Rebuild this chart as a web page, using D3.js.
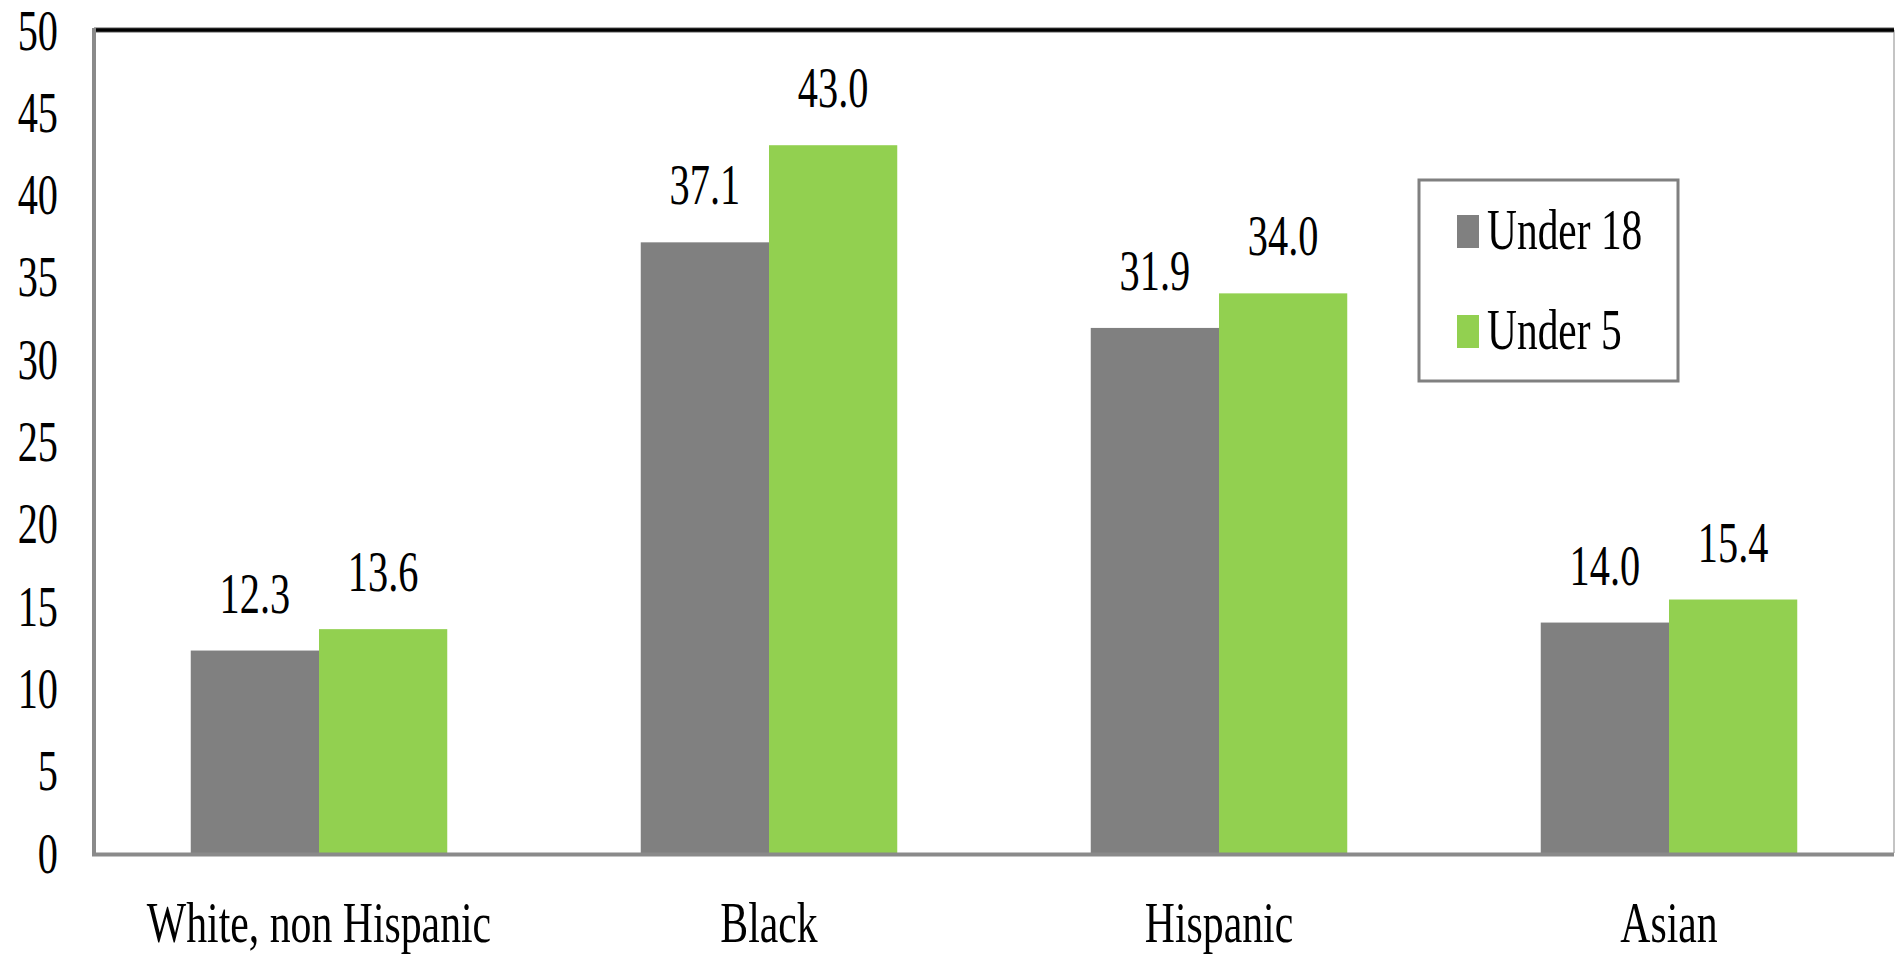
<!DOCTYPE html>
<html>
<head>
<meta charset="utf-8">
<script src="https://cdn.jsdelivr.net/npm/d3@7"></script>
<style>
  html, body { margin: 0; padding: 0; background: #fff; }
  svg { display: block; }
  svg text { font-family: "Liberation Serif", Tinos, "Times New Roman", Times, serif !important; fill: #000; }
</style>
</head>
<body>
<svg id="chart" width="1895" height="955"></svg>
<script>
const categories = ["White, non Hispanic", "Black", "Hispanic", "Asian"];
const seriesNames = ["Under 18", "Under 5"];
const under18 = [12.3, 37.1, 31.9, 14.0];
const under5 = [13.6, 43.0, 34.0, 15.4];
const yTicks = [0, 5, 10, 15, 20, 25, 30, 35, 40, 45, 50];
const colors = ["#808080", "#92D050"];

(function () {
const svg = d3.select("#chart");
const pLeft = 94, pRight = 1894, pTop = 30, pBottom = 853;
const SX = 0.72;
const FONT = "'Liberation Serif', Tinos, 'Times New Roman', Times, serif";

const x = d3.scaleBand().domain(categories).range([pLeft, pRight]).paddingInner(0.43).paddingOuter(0.215);
const xs = d3.scaleBand().domain(seriesNames).range([0, x.bandwidth()]);
const y = d3.scaleLinear().domain([0, 50]).range([pBottom, pTop]);

const data = categories.map((c, i) => ({ cat: c, values: [
  { s: seriesNames[0], v: under18[i] },
  { s: seriesNames[1], v: under5[i] }
]}));

// right border
svg.append("line").attr("x1", pRight).attr("x2", pRight).attr("y1", pTop).attr("y2", pBottom)
  .attr("stroke", "#b0b0b0").attr("stroke-width", 1.5);

// bars
const g = svg.selectAll("g.cat").data(data).join("g").attr("class", "cat")
  .attr("transform", d => `translate(${x(d.cat)},0)`);
g.selectAll("rect").data(d => d.values).join("rect")
  .attr("x", d => xs(d.s))
  .attr("width", xs.bandwidth())
  .attr("y", d => y(d.v))
  .attr("height", d => y(0) - y(d.v))
  .attr("fill", (d, i) => colors[i]);

// value labels
g.selectAll("text.val").data(d => d.values).join("text").attr("class", "val")
  .attr("text-anchor", "middle")
  .attr("font-family", FONT)
  .attr("font-size", 56)
  .attr("transform", d => `translate(${xs(d.s) + xs.bandwidth() / 2},${y(d.v) - 38}) scale(${SX},1)`)
  .text(d => d.v.toFixed(1));

// top gridline (50)
svg.append("line").attr("x1", pLeft).attr("x2", pRight).attr("y1", y(50)).attr("y2", y(50))
  .attr("stroke", "#909090").attr("stroke-width", 5.5);
svg.append("line").attr("x1", pLeft).attr("x2", pRight).attr("y1", y(50)).attr("y2", y(50))
  .attr("stroke", "#000").attr("stroke-width", 3.5);

// y axis
const yAxis = svg.append("g").attr("transform", `translate(${pLeft},0)`)
  .call(d3.axisLeft(y).tickValues(yTicks).tickSize(0).tickFormat(d3.format("d")));
yAxis.attr("font-family", FONT);
yAxis.select(".domain").remove();
yAxis.selectAll("text")
  .attr("font-size", 56)
  .attr("font-family", FONT)
  .attr("fill", "#000")
  .attr("x", -36 / SX)
  .attr("dy", "0.34em")
  .attr("transform", `scale(${SX},1)`);
svg.append("line").attr("x1", pLeft).attr("x2", pLeft).attr("y1", pTop - 2).attr("y2", pBottom + 3)
  .attr("stroke", "#8a8a8a").attr("stroke-width", 4);

// x axis
svg.append("line").attr("x1", pLeft - 2).attr("x2", pRight).attr("y1", pBottom + 1.5).attr("y2", pBottom + 1.5)
  .attr("stroke", "#8a8a8a").attr("stroke-width", 4);
svg.selectAll("text.catlab").data(categories).join("text").attr("class", "catlab")
  .attr("text-anchor", "middle")
  .attr("font-family", FONT)
  .attr("font-size", 58)
  .attr("transform", d => `translate(${x(d) + x.bandwidth() / 2},942) scale(${SX},1)`)
  .text(d => d);

// legend
const lg = svg.append("g");
lg.append("rect").attr("x", 1419).attr("y", 180).attr("width", 259).attr("height", 201)
  .attr("fill", "#fff").attr("stroke", "#808080").attr("stroke-width", 3);
const items = lg.selectAll("g.item").data(seriesNames).join("g").attr("class", "item")
  .attr("transform", (d, i) => `translate(1457,${215 + i * 100})`);
items.append("rect").attr("width", 22).attr("height", 33).attr("fill", (d, i) => colors[i]);
items.append("text").attr("font-size", 56)
  .attr("font-family", FONT)
  .attr("transform", `translate(30,34) scale(0.74,1)`)
  .text(d => d);
})();
</script>
</body>
</html>
